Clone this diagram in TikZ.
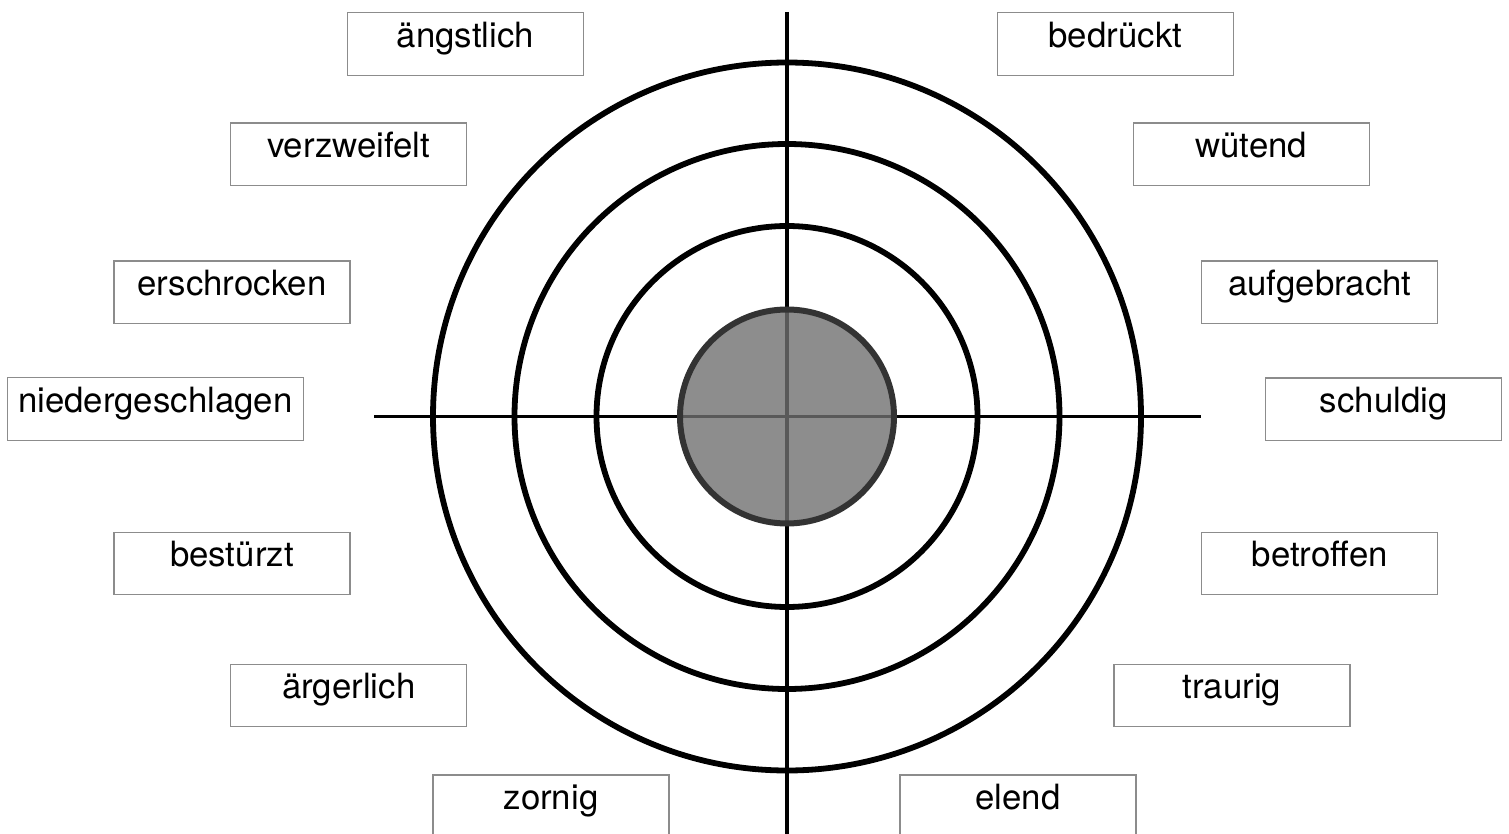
\documentclass[tikz,border=0pt]{standalone}
\usepackage{fontspec}
\setmainfont{TeX Gyre Heros}
\begin{document}
\begin{tikzpicture}[x=0.5pt,y=-0.5pt,
  gefuehl/.style={draw=black!45,line width=0.6pt,fill=white,inner sep=0pt,
    minimum width=118pt,text height=17.25pt,text depth=14pt,
    font=\fontsize{17.4}{20}\selectfont},
  ring/.style={line width=2.9pt},
  achse/.style={line width=1.7pt}]
  \useasboundingbox (0,0) rectangle (1509,834);
  \coordinate (mitte) at (787,416.5);
  \coordinate (links) at (374,416.5);
  \coordinate (rechts) at (1201,416.5);
  \coordinate (oben) at (787,12);
  \coordinate (unten) at (787,834);
  \draw[achse] (links) -- (rechts);
  \draw[achse] (oben) -- (unten);
  \foreach \r in {190.5,272.5,354}
    \draw[ring] (mitte) circle[radius=\r];
  \filldraw[fill=black!56,fill opacity=0.8,draw=black!80,line width=3pt]
    (mitte) circle[radius=107];

  \node[gefuehl] (aengstlich) at (465.5,44) {ängstlich};
  \node[gefuehl] (bedrueckt) at (1115.3,44) {bedrückt};
  \node[gefuehl] (verzweifelt) at (348.7,154.3) {verzweifelt};
  \node[gefuehl] (wuetend) at (1251.3,154.3) {wütend};
  \node[gefuehl] (erschrocken) at (232,292.2) {erschrocken};
  \node[gefuehl] (aufgebracht) at (1319.8,292.3) {aufgebracht};
  \node[gefuehl,minimum width=148pt] (niedergeschlagen) at (155.3,409) {niedergeschlagen};
  \node[gefuehl] (schuldig) at (1383.7,409.3) {schuldig};
  \node[gefuehl] (bestuerzt) at (232,563.4) {bestürzt};
  \node[gefuehl] (betroffen) at (1319.8,563.4) {betroffen};
  \node[gefuehl] (aergerlich) at (348.7,695.4) {ärgerlich};
  \node[gefuehl] (traurig) at (1232,695.4) {traurig};
  \node[gefuehl] (zornig) at (551,806.3) {zornig};
  \node[gefuehl] (elend) at (1018,806.3) {elend};
\end{tikzpicture}
\end{document}
